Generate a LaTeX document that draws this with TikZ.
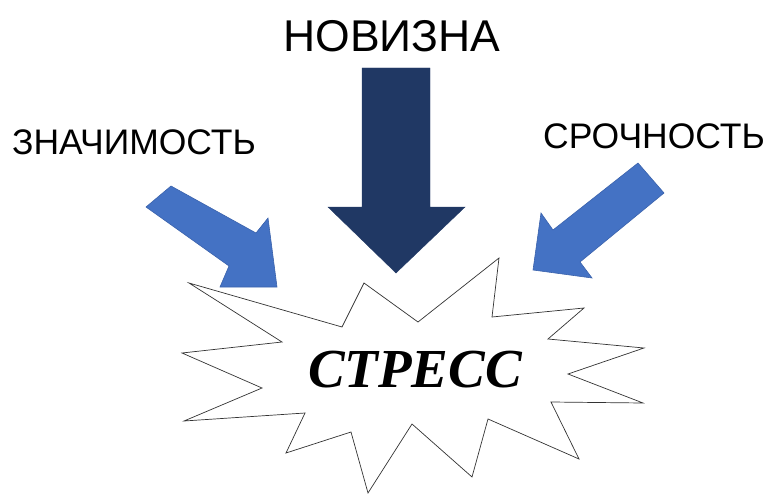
\documentclass[tikz,border=0pt]{standalone}
\usepackage{fontspec}
\setmainfont{Liberation Sans}
\newfontfamily\stressfont{Liberation Serif}
\definecolor{sideblue}{HTML}{4472C4}
\definecolor{sideedge}{HTML}{3A62AC}
\definecolor{navy}{HTML}{203864}
\begin{document}
\begin{tikzpicture}[x=1pt,y=-1pt,
  sidearrow/.style={fill=sideblue,draw=sideedge,line width=0.6pt,line join=miter},
  mainarrow/.style={fill=navy,draw=navy,line width=0.4pt},
  burst/.style={fill=white,draw=black!80,line width=0.7pt,line join=miter},
  label/.style={inner sep=0pt,anchor=base}]
\useasboundingbox (0,0) rectangle (771,495);
% starburst
\draw[burst] (189,283) -- (342,327) -- (364,283) -- (418,322) -- (499,258) -- (492,317)
  -- (584,308) -- (548,339) -- (644,348) -- (568,374) -- (643,403) -- (551,402)
  -- (579,459) -- (488,419) -- (472,477) -- (412,424) -- (368,493) -- (351,432)
  -- (286,453) -- (305,413) -- (184,421) -- (262,388) -- (182,353) -- (282,342) -- cycle;
% arrows
\draw[sidearrow] (146,207) -- (171,186) -- (256,233) -- (268,218) -- (277,287) -- (220,287) -- (229,266) -- cycle;
\draw[sidearrow] (638,163) -- (664,193) -- (580,262) -- (592,278) -- (533,270) -- (541,213) -- (553,230) -- cycle;
\draw[mainarrow] (362,68) -- (430,68) -- (430,207) -- (465,207) -- (396,273) -- (328,207) -- (362,207) -- cycle;
% texts
\node[label] (nov) at (392,52) {\fontsize{44.5}{50}\selectfont НОВИЗНА};
\node[label] (zn) at (134,154) {\fontsize{35.5}{40}\selectfont ЗНАЧИМОСТЬ};
\node[label] (sr) at (654,148) {\fontsize{35.5}{40}\selectfont СРОЧНОСТЬ};
\node[label] (st) at (415,387) {\stressfont\bfseries\itshape\fontsize{55}{60}\selectfont СТРЕСС};
\end{tikzpicture}
\end{document}
